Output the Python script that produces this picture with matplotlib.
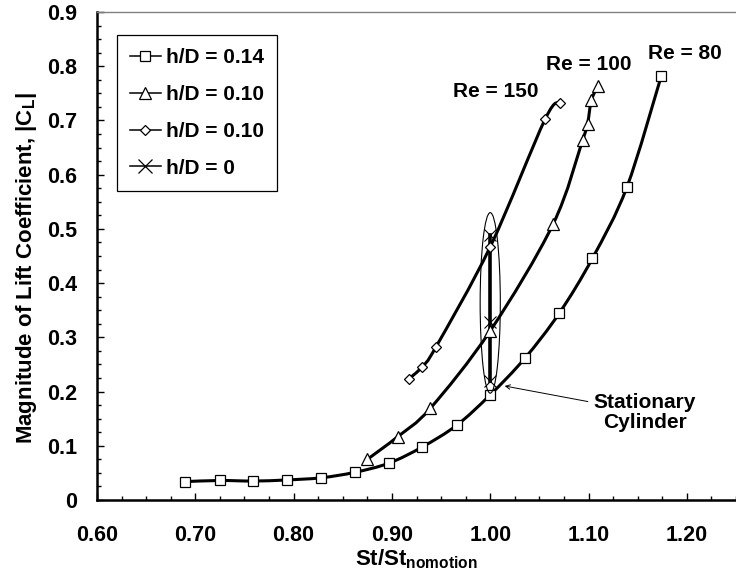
import numpy as np
import matplotlib as mpl
mpl.use('Agg')
import matplotlib.pyplot as plt
from matplotlib.path import Path
from matplotlib.patches import PathPatch, Ellipse
from matplotlib.lines import Line2D
from matplotlib.ticker import MultipleLocator, FormatStrFormatter, FuncFormatter

# data
sq_x = [0.690, 0.725, 0.759, 0.793, 0.828, 0.862, 0.897, 0.931, 0.966, 1.000, 1.035, 1.070, 1.104, 1.139, 1.174]
sq_y = [0.034, 0.036, 0.035, 0.037, 0.041, 0.051, 0.068, 0.098, 0.138, 0.194, 0.261, 0.344, 0.446, 0.577, 0.782]

tri_x = [0.875, 0.906, 0.939, 1.000, 1.064, 1.094, 1.099, 1.103, 1.110]
tri_y = [0.075, 0.117, 0.169, 0.312, 0.509, 0.664, 0.694, 0.738, 0.764]

dia_x = [0.917, 0.931, 0.945, 1.000, 1.056, 1.071]
dia_y = [0.223, 0.246, 0.283, 0.467, 0.703, 0.732]

stat_x = [1.0, 1.0, 1.0]
stat_y = [0.220, 0.329, 0.489]

labels = ['h/D = 0.14', 'h/D = 0.10', 'h/D = 0.10', 'h/D = 0']
re_labels = ['Re = 80', 'Re = 100', 'Re = 150']

font = {'family': 'Liberation Sans', 'weight': 'bold', 'size': 15}
plt.rc('font', **font)
plt.rcParams['axes.labelweight'] = 'bold'
plt.rcParams['mathtext.fontset'] = 'custom'
plt.rcParams['mathtext.rm'] = 'Liberation Sans:bold'
plt.rcParams['mathtext.bf'] = 'Liberation Sans:bold'


def smooth_path(xs, ys):
  # excel-like smoothed line: catmull-rom turned into cubic beziers
  p = np.column_stack([xs, ys])
  n = len(p)
  verts = [p[0]]
  codes = [Path.MOVETO]
  for i in range(n - 1):
    p0 = p[i - 1] if i > 0 else p[i]
    p1 = p[i]
    p2 = p[i + 1]
    p3 = p[i + 2] if i + 2 < n else p[i + 1]
    c1 = p1 + (p2 - p0) / 6.0
    c2 = p2 - (p3 - p1) / 6.0
    verts += [c1, c2, p2]
    codes += [Path.CURVE4] * 3
  return Path(verts, codes)


fig = plt.figure(figsize=(7.36, 5.8), dpi=100)
ax = fig.add_axes([0.1318, 0.1379, 0.8682, 0.8414])

lw = 2.2
mk = dict(mfc='white', mec='k', mew=0.9, ls='none', zorder=5)

for xs, ys in [(sq_x, sq_y), (tri_x, tri_y), (dia_x, dia_y)]:
  ax.add_patch(PathPatch(smooth_path(xs, ys), fill=False, lw=lw, ec='k', zorder=3))

ax.plot(sq_x, sq_y, marker='s', ms=7.2, **mk)
ax.plot(tri_x, tri_y, marker='^', ms=8.5, **mk)
ax.plot(dia_x, dia_y, marker='D', ms=5.0, **mk)
ax.plot(stat_x, stat_y, color='k', lw=lw + 0.4, zorder=4)
ax.plot(stat_x, stat_y, marker='x', ms=8, mec='k', mew=0.8, ls='none', zorder=6)

# ellipse round the stationary points
ymin, ymax = min(stat_y), max(stat_y)
e_top = ymax + 0.041
e_bot = ymin - 0.023
ax.add_patch(Ellipse((stat_x[0], (e_top + e_bot) / 2), 0.0205, e_top - e_bot,
                     fill=False, ec='k', lw=0.8, zorder=7))

ax.annotate('Stationary\nCylinder', xy=(1.0147, 0.2103), xytext=(1.157, 0.162),
            ha='center', va='center', fontsize=15, linespacing=1.05,
            arrowprops=dict(arrowstyle='->', lw=0.7, color='k', shrinkA=2, shrinkB=0,
                            mutation_scale=8))

ax.text(1.1985, 0.823, re_labels[0], ha='center', va='center')
ax.text(1.100, 0.804, re_labels[1], ha='center', va='center')
ax.text(1.0056, 0.753, re_labels[2], ha='center', va='center')

# legend
hl = dict(color='k', lw=1.1, mfc='white', mec='k', mew=0.9)
handles = [Line2D([], [], marker='s', ms=7.2, **hl),
           Line2D([], [], marker='^', ms=8.5, **hl),
           Line2D([], [], marker='D', ms=5.0, **hl),
           Line2D([], [], marker='x', ms=10, **hl)]
leg = ax.legend(handles, labels, loc='upper left', bbox_to_anchor=(0.031, 0.953),
                borderaxespad=0, fancybox=False, edgecolor='k', framealpha=1,
                handlelength=1.45, handletextpad=0.25, labelspacing=0.85,
                borderpad=0.65, fontsize=15)
leg.get_frame().set_linewidth(0.9)

ax.set_xlim(0.6, 1.25)
ax.set_ylim(0, 0.9)
ax.xaxis.set_major_locator(MultipleLocator(0.1))
ax.xaxis.set_minor_locator(MultipleLocator(0.025))
ax.yaxis.set_major_locator(MultipleLocator(0.1))
ax.yaxis.set_minor_locator(MultipleLocator(0.025))
ax.xaxis.set_major_formatter(FormatStrFormatter('%.2f'))
ax.yaxis.set_major_formatter(FuncFormatter(lambda v, p: '0' if abs(v) < 1e-9 else '%.1f' % v))

ax.tick_params(direction='in', length=5, width=1.0, pad=14, labelsize=15.5)
ax.tick_params(direction='in', which='minor', length=3, width=1.0)
ax.tick_params(axis='x', pad=18)

ax.set_xlabel(r'St/St$_{\mathbf{nomotion}}$', labelpad=1, fontsize=16)
ax.set_ylabel(r'Magnitude of Lift Coefficient, |C$_{\mathbf{L}}$|', labelpad=6, fontsize=16)
ax.yaxis.label.set_y(0.475)

ax.spines['left'].set_linewidth(1.8)
ax.spines['bottom'].set_linewidth(1.8)
ax.spines['top'].set_linewidth(1.0)
ax.spines['top'].set_color('#808080')
ax.spines['right'].set_visible(False)

fig.savefig('out.png', dpi=100)
